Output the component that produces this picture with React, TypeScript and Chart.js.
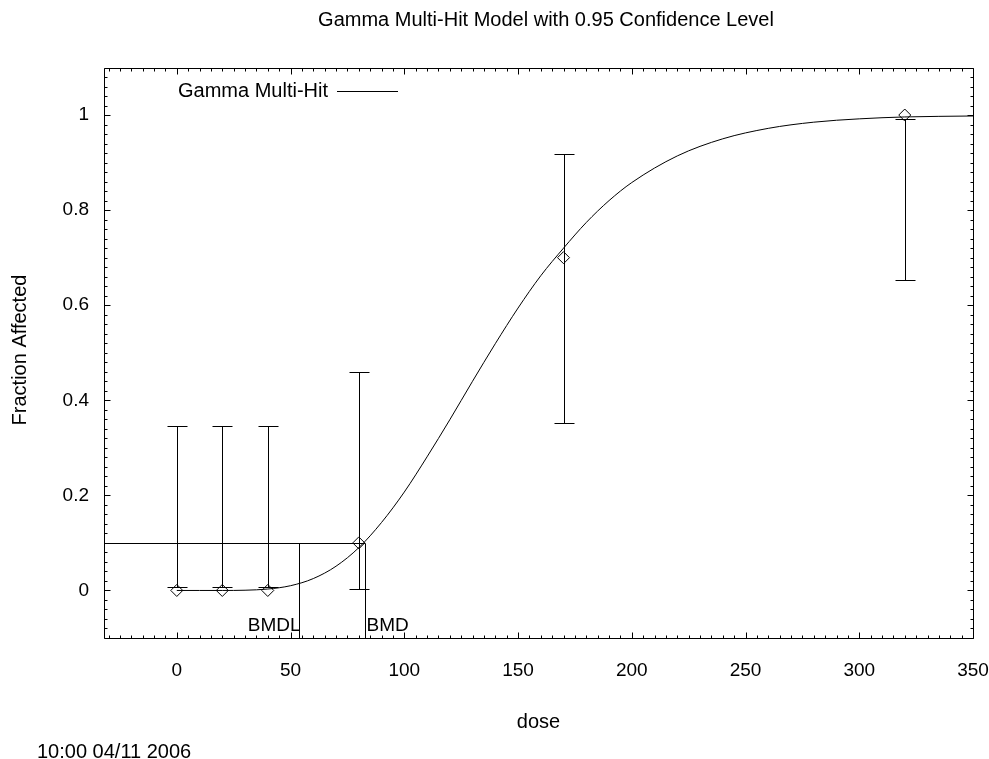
import React, { useEffect, useRef } from "react";
import { Chart, registerables } from "chart.js";

Chart.register(...registerables);

const FONT = '"Liberation Sans", Arial, Helvetica, sans-serif';

const chartTitle = "Gamma Multi-Hit Model with 0.95 Confidence Level";
const xAxisTitle = "dose";
const yAxisTitle = "Fraction Affected";
const timestamp = "10:00 04/11 2006";
const legendLabel = "Gamma Multi-Hit";
const bmdlLabel = "BMDL";
const bmdLabel = "BMD";

// observed data
const doses = [0, 20, 40, 80, 170, 320];
const fractions = [0, 0, 0, 0.1, 0.7, 1.0];
const lowerCI = [0.007, 0.007, 0.007, 0.004, 0.352, 0.654];
const upperCI = [0.345, 0.345, 0.345, 0.459, 0.919, 0.992];

// fitted curve
const curveDose = [0, 10, 20, 30, 40, 50, 60, 70, 80, 90, 100, 110, 120, 130, 140, 150, 160, 170, 180, 190, 200, 220, 240, 260, 280, 300, 320, 350];
const curveFrac = [0, 0, 0, 0.0005, 0.003, 0.01, 0.025, 0.051, 0.09, 0.143, 0.207, 0.281, 0.359, 0.44, 0.519, 0.594, 0.662, 0.72, 0.774, 0.82, 0.858, 0.914, 0.95, 0.972, 0.985, 0.992, 0.996, 0.998];

// benchmark values
const bmr = 0.1;
const bmd = 82.6;
const bmdl = 53.6;

// axes
const xMin = -32;
const xMax = 350;
const yMin = -0.1;
const yMax = 1.1;
const xTickValues = [0, 50, 100, 150, 200, 250, 300, 350];
const yTickValues = [0, 0.2, 0.4, 0.6, 0.8, 1];
const yTickLabels = ["0", "0.2", "0.4", "0.6", "0.8", "1"];
const xMinorStep = 5;
const yMinorStep = 0.02;

const overlayPlugin = {
  id: "overlay",
  afterDatasetsDraw(chart: any) {
    const { ctx, chartArea: a, scales } = chart;
    const x = scales.x;
    const y = scales.y;
    ctx.save();
    ctx.strokeStyle = "#000";
    ctx.lineWidth = 1;

    // error bars
    doses.forEach((d, i) => {
      const px = Math.round(x.getPixelForValue(d)) + 0.5;
      const lo = Math.round(y.getPixelForValue(lowerCI[i])) + 0.5;
      const hi = Math.round(y.getPixelForValue(upperCI[i])) + 0.5;
      ctx.beginPath();
      ctx.moveTo(px, lo);
      ctx.lineTo(px, hi);
      ctx.moveTo(px - 10, lo);
      ctx.lineTo(px + 10, lo);
      ctx.moveTo(px - 10, hi);
      ctx.lineTo(px + 10, hi);
      ctx.stroke();
    });

    // BMD lines
    const yb = Math.round(y.getPixelForValue(bmr)) + 0.5;
    const xBmd = Math.round(x.getPixelForValue(bmd)) + 0.5;
    const xBmdl = Math.round(x.getPixelForValue(bmdl)) + 0.5;
    ctx.beginPath();
    ctx.moveTo(a.left, yb);
    ctx.lineTo(xBmd, yb);
    ctx.moveTo(xBmd, yb);
    ctx.lineTo(xBmd, a.bottom);
    ctx.moveTo(xBmdl, yb);
    ctx.lineTo(xBmdl, a.bottom);
    ctx.stroke();

    ctx.fillStyle = "#000";
    ctx.font = `19px ${FONT}`;
    ctx.textBaseline = "alphabetic";
    ctx.textAlign = "right";
    ctx.fillText(bmdlLabel, xBmdl + 1, 631);
    ctx.textAlign = "left";
    ctx.fillText(bmdLabel, xBmd + 1, 631);

    // frame
    const L = Math.round(a.left) + 0.5;
    const R = Math.round(a.right) + 0.5;
    const T = Math.round(a.top) + 0.5;
    const B = Math.round(a.bottom) + 0.5;
    ctx.beginPath();
    ctx.rect(L, T, R - L, B - T);
    ctx.stroke();

    // ticks (inward on all four sides)
    ctx.beginPath();
    const nx = Math.round((xMax - xMin) / xMinorStep);
    for (let k = 0; k <= nx + 1; k++) {
      const v = Math.ceil(xMin / xMinorStep) * xMinorStep + k * xMinorStep;
      if (v > xMax + 1e-9) break;
      const px = Math.round(x.getPixelForValue(v)) + 0.5;
      const major = xTickValues.some((t) => Math.abs(t - v) < 1e-9);
      const len = major ? 6 : 3;
      ctx.moveTo(px, B);
      ctx.lineTo(px, B - len);
      ctx.moveTo(px, T);
      ctx.lineTo(px, T + len);
    }
    const ny = Math.round((yMax - yMin) / yMinorStep);
    for (let k = 0; k <= ny + 1; k++) {
      const v = Math.ceil(yMin / yMinorStep - 1e-9) * yMinorStep + k * yMinorStep;
      if (v > yMax + 1e-9) break;
      const py = Math.round(y.getPixelForValue(v)) + 0.5;
      const major = yTickValues.some((t) => Math.abs(t - v) < 1e-6);
      const len = major ? 6 : 3;
      ctx.moveTo(L, py);
      ctx.lineTo(L + len, py);
      ctx.moveTo(R, py);
      ctx.lineTo(R - len, py);
    }
    ctx.stroke();

    // legend
    ctx.font = `20px ${FONT}`;
    ctx.textAlign = "left";
    ctx.textBaseline = "middle";
    ctx.fillText(legendLabel, 178, 91);
    ctx.beginPath();
    ctx.moveTo(337, 91.5);
    ctx.lineTo(398, 91.5);
    ctx.stroke();

    // titles
    ctx.textAlign = "center";
    ctx.textBaseline = "middle";
    ctx.fillText(chartTitle, 546, 20);
    ctx.textBaseline = "alphabetic";
    ctx.fillText(xAxisTitle, (a.left + a.right) / 2, 728);
    ctx.save();
    ctx.translate(20, 350);
    ctx.rotate(-Math.PI / 2);
    ctx.textBaseline = "middle";
    ctx.fillText(yAxisTitle, 0, 0);
    ctx.restore();

    ctx.textAlign = "left";
    ctx.textBaseline = "alphabetic";
    ctx.fillText(timestamp, 37, 758);

    ctx.restore();
  },
};

export default function App() {
  const ref = useRef<HTMLCanvasElement | null>(null);

  useEffect(() => {
    if (!ref.current) return;
    const chart = new Chart(ref.current, {
      type: "line",
      data: {
        datasets: [
          {
            type: "line",
            label: legendLabel,
            data: curveDose.map((d, i) => ({ x: d, y: curveFrac[i] })),
            borderColor: "#000",
            borderWidth: 1,
            pointRadius: 0,
            fill: false,
            cubicInterpolationMode: "monotone",
          } as any,
          {
            type: "scatter",
            label: "observed",
            data: doses.map((d, i) => ({ x: d, y: fractions[i] })),
            pointStyle: "rectRot",
            pointRadius: 6,
            borderColor: "#000",
            borderWidth: 1,
            backgroundColor: "rgba(0,0,0,0)",
            showLine: false,
          } as any,
        ],
      },
      options: {
        animation: false,
        responsive: false,
        devicePixelRatio: 1,
        layout: { padding: { left: 0, right: 16, top: 67.5, bottom: 0 } },
        plugins: {
          legend: { display: false },
          title: { display: false },
          tooltip: { enabled: false },
        },
        scales: {
          x: {
            type: "linear",
            min: xMin,
            max: xMax,
            afterBuildTicks: (s: any) => {
              s.ticks = xTickValues.map((v) => ({ value: v }));
            },
            afterFit: (s: any) => {
              s.height = 121;
              s.paddingLeft = 0;
              s.paddingRight = 0;
            },
            grid: { display: false, drawTicks: false },
            border: { display: false },
            ticks: {
              color: "#000",
              font: { family: FONT, size: 19 },
              padding: 21,
              maxRotation: 0,
              autoSkip: false,
              callback: (v: any) => String(v),
            },
          },
          y: {
            type: "linear",
            min: yMin,
            max: yMax,
            afterBuildTicks: (s: any) => {
              s.ticks = yTickValues.map((v) => ({ value: v }));
            },
            afterFit: (s: any) => {
              s.width = 104;
              s.paddingTop = 0;
              s.paddingBottom = 0;
            },
            grid: { display: false, drawTicks: false },
            border: { display: false },
            ticks: {
              color: "#000",
              font: { family: FONT, size: 19 },
              padding: 15,
              autoSkip: false,
              callback: (_v: any, i: number) => yTickLabels[i],
            },
          },
        },
      } as any,
      plugins: [overlayPlugin],
    });
    return () => chart.destroy();
  }, []);

  return (
    <div style={{ position: "absolute", left: 0, top: 0, width: 989, height: 759, background: "#fff" }}>
      <canvas ref={ref} width={989} height={759} style={{ display: "block" }} />
    </div>
  );
}
